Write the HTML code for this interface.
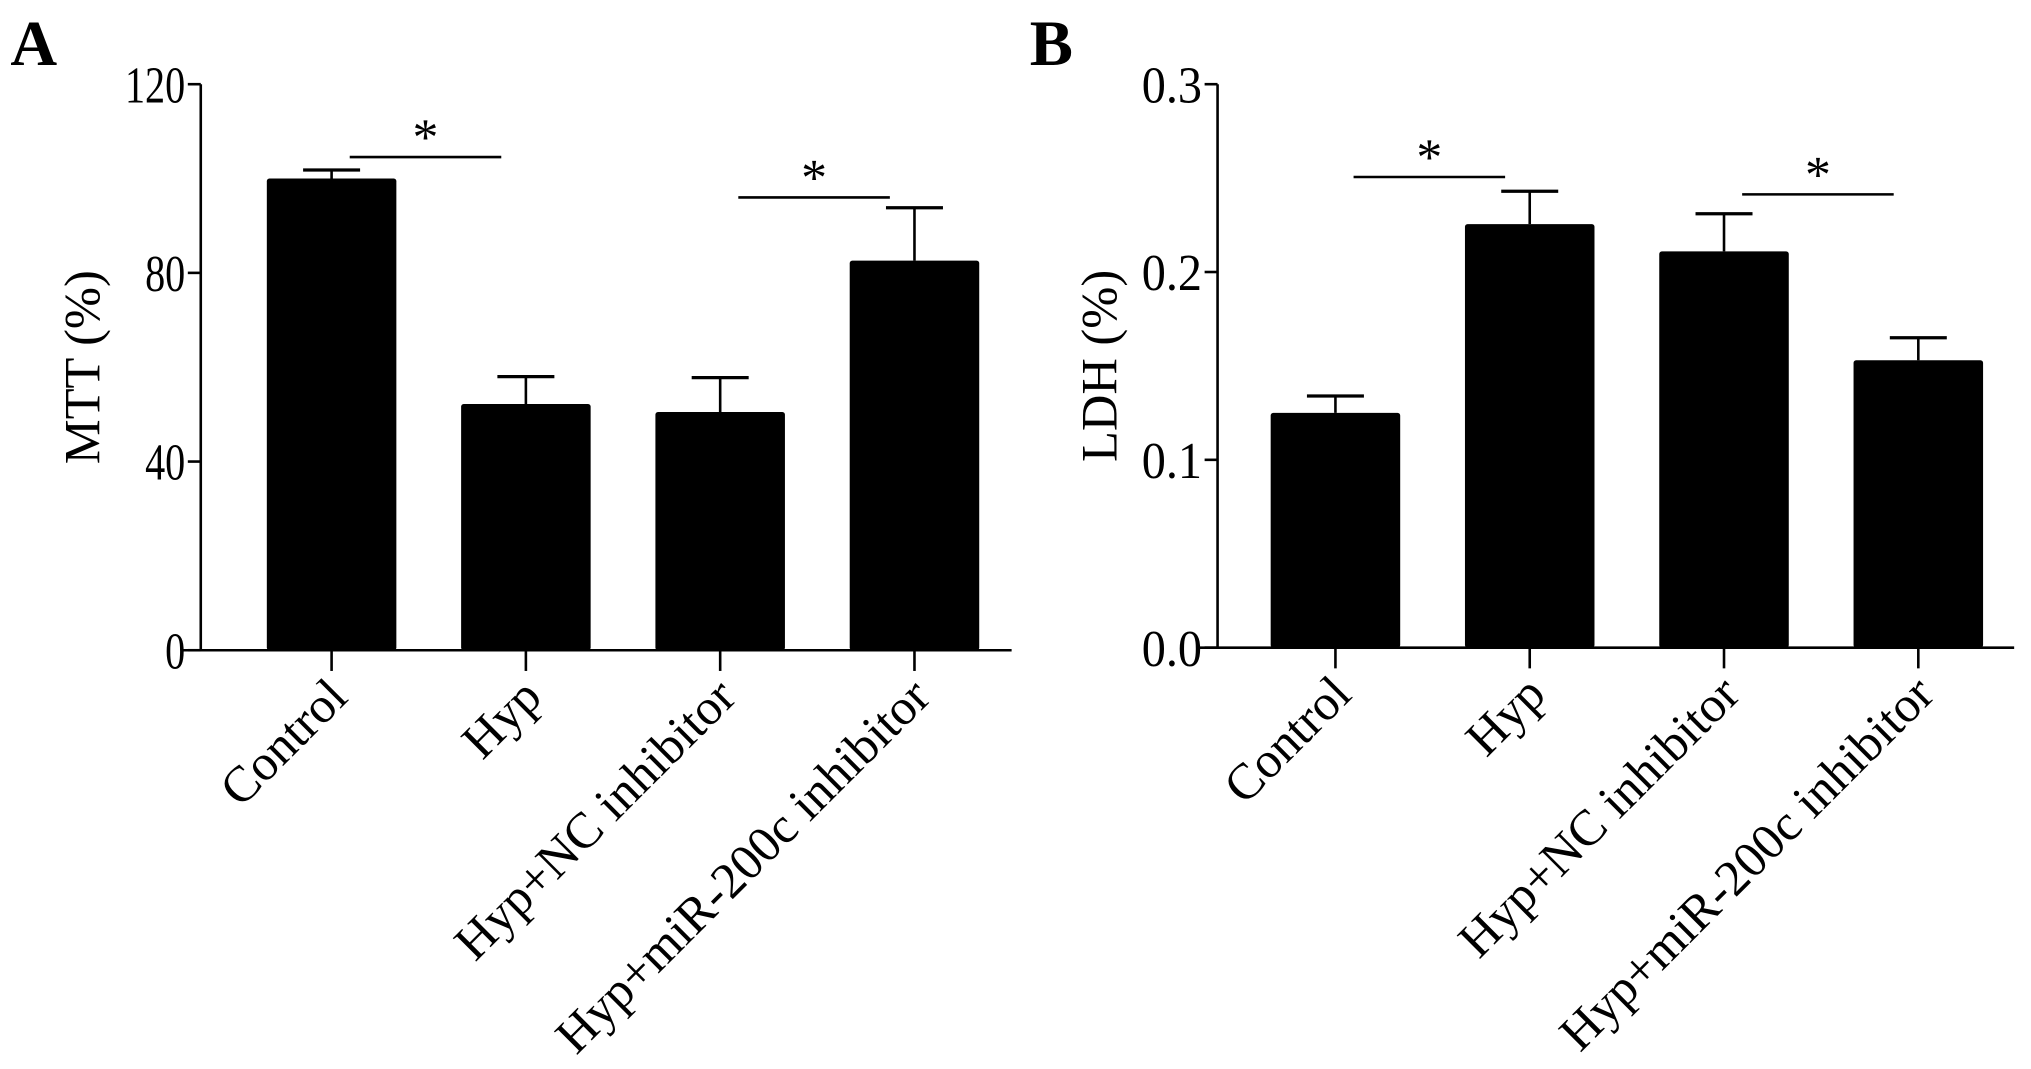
<!DOCTYPE html>
<html><head><meta charset="utf-8"><style>
html,body{margin:0;padding:0;background:#fff;}
svg{display:block;font-family:"Liberation Serif",serif;}
</style></head><body>
<svg id="fig" width="2031" height="1069" viewBox="0 0 1568 825.3"></svg>
<script>
const categories = ["Control","Hyp","Hyp+NC inhibitor","Hyp+miR-200c inhibitor"];
const mttValues = [100, 52.2, 50.5, 82.6];
const mttErrors = [1.8, 5.8, 7.3, 11.2];
const mttTicks = [0, 40, 80, 120];
const mttTickLabels = ["0","40","80","120"];
const ldhValues = [0.125, 0.2255, 0.211, 0.153];
const ldhErrors = [0.009, 0.0175, 0.020, 0.012];
const ldhTicks = [0, 0.1, 0.2, 0.3];
const ldhTickLabels = ["0.0","0.1","0.2","0.3"];
const mttSig = [[0,1],[2,3]];
const ldhSig = [[0,1],[2,3]];

const NS = "http://www.w3.org/2000/svg";
const svg = document.getElementById("fig");
function mk(tag, attrs, parent, text){
  const e = document.createElementNS(NS, tag);
  for (const k in attrs) e.setAttribute(k, attrs[k]);
  if (text !== undefined) e.textContent = text;
  (parent||svg).appendChild(e);
  return e;
}

function panel(cfg){
  const g = mk("g", {});
  
  
  const y = v => cfg.y0 - (v / cfg.max) * (cfg.y0 - cfg.yTop);
  const cx = i => cfg.x0 + cfg.first + i * cfg.step;
  const L = mk("text", {x: cfg.letterX, y: 50, "font-size": 50, "font-weight": "bold"}, g, cfg.letter);
  
  
  const ya = mk("line", {x1: cfg.x0, y1: cfg.yTop, x2: cfg.x0, y2: cfg.y0, stroke: "#000", "stroke-width": 2}, g);
  
  
  const xa = mk("line", {x1: cfg.x0 - 14, y1: cfg.y0, x2: cfg.xEnd, y2: cfg.y0, stroke: "#000", "stroke-width": 2}, g);
  
  
  cfg.ticks.forEach((t, i) => {
    const ty = y(t);
    const tl = mk("line", {x1: cfg.x0 - 10, y1: ty, x2: cfg.x0, y2: ty, stroke: "#000", "stroke-width": 2}, g);
    
    
    const lab = cfg.tickLabels[i];
    const tx = mk("text", {x: cfg.x0 - 12, y: ty + 14, "font-size": 40, "text-anchor": "end", textLength: lab.length * 15.5, lengthAdjust: "spacingAndGlyphs"}, g, lab);
    
    
  });
  const at = mk("text", {x: 0, y: 0, "font-size": 39, "text-anchor": "middle", transform: `translate(${cfg.x0 - 78},${(cfg.yTop + cfg.y0)/2}) rotate(-90)`}, g, cfg.title);
  
  
  cfg.values.forEach((v, i) => {
    const c = cx(i);
    const top = y(v), et = y(v + cfg.errors[i]);
    const ev = mk("line", {x1: c, y1: et, x2: c, y2: top, stroke: "#000", "stroke-width": 2}, g);
    
    
    const ec = mk("line", {x1: c - 22, y1: et, x2: c + 22, y2: et, stroke: "#000", "stroke-width": 2.5}, g);
    
    
    const b = mk("rect", {x: c - 50, y: top, width: 100, height: cfg.y0 - top, fill: "#000", rx: 2}, g);
    
    
    const tk = mk("line", {x1: c, y1: cfg.y0, x2: c, y2: cfg.y0 + 16, stroke: "#000", "stroke-width": 2}, g);
    
    
    const xl = mk("text", {x: 0, y: 0, "font-size": 39, "text-anchor": "end", transform: `translate(${c + 14},${cfg.y0 + 38}) rotate(-45)`}, g, categories[i]);
    
    
  });
  cfg.sig.forEach((p, k) => {
    const a = p[0], bIdx = p[1];
    const hi = Math.max(cfg.values[a] + cfg.errors[a], cfg.values[bIdx] + cfg.errors[bIdx]);
    const ly = y(hi) - cfg.sigGap[k];
    const x1 = cx(a) + 14, x2 = cx(bIdx) - 19;
    const sl = mk("line", {x1: x1, y1: ly, x2: x2, y2: ly, stroke: "#000", "stroke-width": 2}, g);
    
    
    const st = mk("text", {x: (x1 + x2) / 2, y: ly - 2, "font-size": 40, "text-anchor": "middle"}, g, "*");
    
    
  });
}

panel({name: "mtt-panel", letter: "A", letterX: 8, x0: 155, xEnd: 781, yTop: 65, y0: 502, max: 120,
  first: 101, step: 150, values: mttValues, errors: mttErrors, ticks: mttTicks, tickLabels: mttTickLabels,
  title: "MTT (%)", sig: mttSig, sigGap: [10, 8]});
panel({name: "ldh-panel", letter: "B", letterX: 795, x0: 940, xEnd: 1555, yTop: 65, y0: 500, max: 0.3,
  first: 91, step: 150, values: ldhValues, errors: ldhErrors, ticks: ldhTicks, tickLabels: ldhTickLabels,
  title: "LDH (%)", sig: ldhSig, sigGap: [11, 15]});
</script>
</body></html>
